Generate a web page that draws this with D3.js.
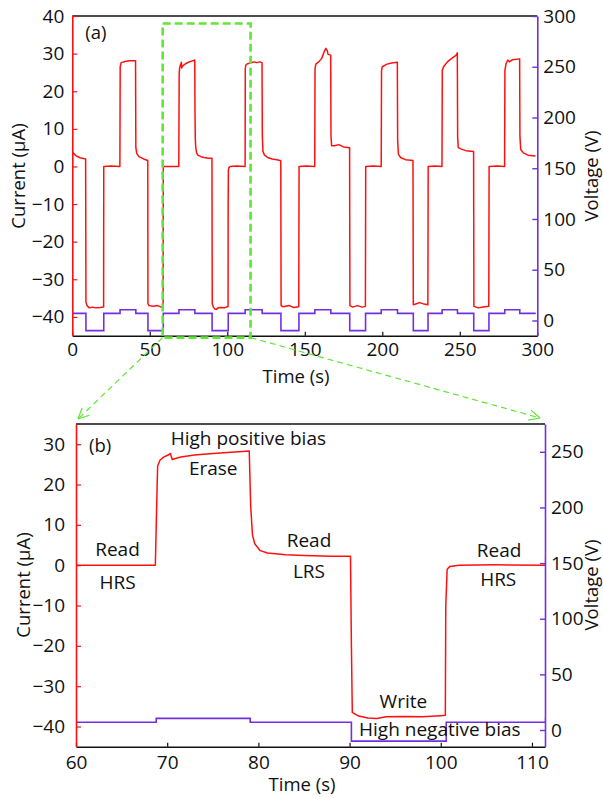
<!DOCTYPE html>
<html>
<head>
<meta charset="utf-8">
<script src="https://cdn.jsdelivr.net/npm/d3@7"></script>
<style>
  body { margin: 0; background: #fff; }
  svg text { font-family: 'Open Sans', sans-serif; fill: #111; }
</style>
</head>
<body>
<svg id="chart" width="603" height="798"></svg>
<script>
// current trace, [time (s), current (uA)]
const currentTrace = [
  [0, 3.8], [1, 3.4], [2, 3.0], [3, 2.7], [5, 2.3], [8.6, 2.0],
  [8.8, -36.0], [9.5, -37.0], [11, -37.6], [13, -37.4], [15, -37.6], [18, -37.5], [20.2, -37.4],
  [20.3, 0.0], [25, 0.1], [30.7, 0.0],
  [30.9, 26.5], [31.5, 27.6], [34, 27.9], [37, 28.1], [40.8, 28.1],
  [41.0, 5.0], [41.6, 3.4], [43, 2.6], [46, 2.0], [48.7, 1.6],
  [48.8, -36.5], [49.5, -37.0], [52, -37.2], [55, -37.0], [58.6, -37.6],
  [58.7, 0.0], [63, 0.0], [68.7, 0.0],
  [68.85, 15], [68.95, 24.5], [69.2, 26.0], [69.6, 26.8], [70.1, 27.3], [70.35, 27.7], [70.55, 26.2],
  [70.8, 26.4], [71.5, 26.8], [73, 27.3], [75, 27.7], [77, 28.0], [79.0, 28.3],
  [79.15, 15], [79.35, 7.5], [79.6, 5.3], [80.2, 3.6], [81, 3.0], [83, 2.6], [85, 2.4], [88, 2.2], [90.1, 2.2],
  [90.2, -20], [90.3, -36.5], [91, -37.4], [92, -37.9], [93, -38.0], [94, -37.6], [96, -37.5], [98, -37.6],
  [100, -37.3], [100.5, -37.2],
  [100.55, -10], [100.7, -1.0], [101, -0.3], [102, 0.0], [106, 0.1], [111.5, 0.0],
  [111.6, 26.0], [112, 27.0], [113, 27.3], [115, 27.5], [117, 27.8], [119, 27.6], [121, 27.8], [122.4, 27.6],
  [122.6, 8.0], [123.0, 4.0], [124, 3.0], [126, 2.4], [129, 2.0], [132, 1.8], [134.5, 1.5],
  [134.7, -37.0], [136, -37.3], [140, -37.0], [143, -37.5], [146.1, -37.3],
  [146.3, 0.0], [151, 0.1], [156.4, 0.0],
  [156.6, 26.0], [157.2, 27.3], [159, 27.8], [161, 28.8], [162.5, 30.5], [163.6, 31.4], [164.5, 30.8],
  [165, 29.8], [166.7, 29.6],
  [166.9, 8.0], [167.3, 5.5], [169, 5.5], [172, 5.8], [175, 5.2], [178.9, 5.0],
  [179.1, -37.0], [181, -37.4], [184, -37.0], [187, -37.4], [189.1, -37.2],
  [189.3, 0.0], [194, 0.1], [199.3, 0.0],
  [199.5, 25.5], [200, 26.5], [203, 27.2], [206, 27.5], [209.7, 27.7],
  [209.9, 7.0], [210.4, 3.2], [212, 2.3], [215, 1.8], [219.8, 1.6],
  [220, -36.8], [222, -36.5], [224, -36.2], [227, -36.6], [229.4, -36.8],
  [229.6, 0.0], [234, 0.1], [238.5, 0.0],
  [238.7, 25.5], [239.5, 26.5], [242, 27.8], [245, 28.8], [247.5, 29.5], [248.4, 30.2],
  [248.6, 8.0], [249, 5.0], [251, 4.6], [254, 4.2], [258.9, 4.0],
  [259.1, -37.2], [262, -37.6], [265, -37.4], [268.7, -37.2],
  [268.9, 0.0], [274, 0.1], [278.9, 0.0],
  [279.1, 25.5], [279.8, 27.3], [281, 28.3], [282, 27.8], [284, 28.4], [288.6, 28.6],
  [288.8, 8.0], [289.3, 4.5], [291, 3.6], [294, 3.0], [298.8, 2.8]
];

// applied voltage, [time (s), volts], each level holds until the next step
const voltageSteps = [
  [0, 7], [8.8, -10], [20.3, 7], [30.8, 10.5], [41.0, 7], [48.8, -10], [58.7, 7], [68.8, 10.5],
  [79.1, 7], [90.2, -10], [100.6, 7], [111.5, 10.5], [122.5, 7], [134.6, -10], [146.2, 7],
  [156.5, 10.5], [166.8, 7], [179, -10], [189.2, 7], [199.3, 10.5], [209.8, 7], [220, -10],
  [229.5, 7], [238.6, 10.5], [248.5, 7], [259, -10], [268.8, 7], [279, 10.5], [288.7, 7], [299, 7]
];

const topTimeTicks = [0, 50, 100, 150, 200, 250, 300];
const topCurrentTicks = [-40, -30, -20, -10, 0, 10, 20, 30, 40];
const topVoltageTicks = [0, 50, 100, 150, 200, 250, 300];
const zoomTimeTicks = [60, 70, 80, 90, 100, 110];
const zoomCurrentTicks = [-40, -30, -20, -10, 0, 10, 20, 30];
const zoomVoltageTicks = [0, 50, 100, 150, 200, 250];

// green box in panel (a): time span and current span
const zoomBoxTime = [58.3, 115];
const zoomBoxCurrent = [-45.5, 38];

// labels in panel (b): [text, time, current]
const zoomLabels = [
  ['High positive bias', 78.9, 29.8],
  ['Erase', 75.05, 22.3],
  ['Read', 64.55, 2.4],
  ['HRS', 64.55, -5.8],
  ['Read', 85.55, 4.5],
  ['LRS', 85.55, -3.3],
  ['Read', 106.4, 2.0],
  ['HRS', 106.3, -5.05],
  ['Write', 95.9, -35.3],
  ['High negative bias', 99.9, -42.4]
];

const RED = '#ff1010';
const PURPLE = '#7030e0';
const GREEN = '#5fe636';
const svg = d3.select('#chart');

function drawPanel(opt) {
  const x = d3.scaleLinear().domain(opt.xDomain).range([opt.left, opt.right]);
  const yI = d3.scaleLinear().domain(opt.iDomain).range([opt.bottom, opt.top]);
  const yV = d3.scaleLinear().domain(opt.vDomain).range([opt.bottom, opt.top]);
  const g = svg.append('g');

  g.append('clipPath').attr('id', opt.id + '-clip')
    .append('rect')
    .attr('x', opt.left).attr('y', opt.top)
    .attr('width', opt.right - opt.left).attr('height', opt.bottom - opt.top);

  const plot = g.append('g').attr('clip-path', `url(#${opt.id}-clip)`);

  plot.append('path')
    .datum(voltageSteps)
    .attr('fill', 'none')
    .attr('stroke', PURPLE)
    .attr('stroke-width', 1.6)
    .attr('d', d3.line().curve(d3.curveStepAfter).x(d => x(d[0])).y(d => yV(d[1])));

  plot.append('path')
    .datum(currentTrace)
    .attr('fill', 'none')
    .attr('stroke', RED)
    .attr('stroke-width', 1.5)
    .attr('stroke-linejoin', 'round')
    .attr('d', d3.line().x(d => x(d[0])).y(d => yI(d[1])));

  // top border
  g.append('line')
    .attr('x1', opt.left).attr('x2', opt.right)
    .attr('y1', opt.top).attr('y2', opt.top)
    .attr('stroke', '#111').attr('stroke-width', 1.5);

  const xAxis = d3.axisBottom(x).tickValues(opt.xTicks).tickSize(-4).tickSizeOuter(0).tickPadding(opt.xPad);
  const axX = g.append('g').attr('transform', `translate(0,${opt.bottom})`).call(xAxis);
  axX.select('.domain').attr('stroke', '#111').attr('stroke-width', 1.5);
  axX.selectAll('.tick line').attr('stroke', '#111').attr('stroke-width', 1.2);

  const yAxis = d3.axisLeft(yI).tickValues(opt.iTicks).tickSize(-5).tickSizeOuter(0).tickPadding(opt.iPad);
  const axI = g.append('g').attr('transform', `translate(${opt.left},0)`).call(yAxis);
  axI.select('.domain').attr('stroke', RED).attr('stroke-width', 1.6);
  axI.selectAll('.tick line').attr('stroke', RED).attr('stroke-width', 1.2);

  const vAxis = d3.axisRight(yV).tickValues(opt.vTicks).tickSize(-5).tickSizeOuter(0).tickPadding(opt.vPad);
  const axV = g.append('g').attr('transform', `translate(${opt.right},0)`).call(vAxis);
  axV.select('.domain').attr('stroke', PURPLE).attr('stroke-width', 1.6);
  axV.selectAll('.tick line').attr('stroke', PURPLE).attr('stroke-width', 1.4);

  g.selectAll('.tick text').attr('font-size', 19).attr('font-family', "'Open Sans', sans-serif").attr('fill', '#111');

  g.append('text')
    .attr('transform', `translate(${opt.iTitleX},${opt.titleY}) rotate(-90)`)
    .attr('text-anchor', 'middle')
    .attr('font-size', 18.5)
    .text('Current (μA)');

  g.append('text')
    .attr('transform', `translate(${opt.vTitleX},${opt.titleY}) rotate(-90)`)
    .attr('text-anchor', 'middle')
    .attr('font-size', 18.5)
    .text('Voltage (V)');

  g.append('text')
    .attr('x', opt.xTitleX).attr('y', opt.xTitleY)
    .attr('text-anchor', 'middle')
    .attr('font-size', 18.5)
    .text('Time (s)');

  g.append('text')
    .attr('x', opt.left + 13).attr('y', opt.tagY)
    .attr('font-size', 18.5)
    .text(opt.tag);

  return {x, yI, yV, g};
}

const panelA = drawPanel({
  id: 'a', tag: '(a)', tagY: 38.5,
  left: 72.3, right: 537.3, top: 16, bottom: 335.7,
  xDomain: [0, 300], iDomain: [-45, 40], vDomain: [-15, 300],
  xTicks: topTimeTicks, iTicks: topCurrentTicks, vTicks: topVoltageTicks,
  xPad: 7, iPad: 8, vPad: 6,
  iTitleX: 25, vTitleX: 598, titleY: 176, xTitleX: 296, xTitleY: 383
});

const panelB = drawPanel({
  id: 'b', tag: '(b)', tagY: 452,
  left: 76, right: 545, top: 424, bottom: 746.7,
  xDomain: [60, 111.43], iDomain: [-45, 35], vDomain: [-15, 275],
  xTicks: zoomTimeTicks, iTicks: zoomCurrentTicks, vTicks: zoomVoltageTicks,
  xPad: 9, iPad: 11, vPad: 6,
  iTitleX: 30, vTitleX: 598, titleY: 585, xTitleX: 302, xTitleY: 791
});

panelB.g.selectAll('.label')
  .data(zoomLabels)
  .join('text')
  .attr('class', 'label')
  .attr('x', d => panelB.x(d[1]))
  .attr('y', d => panelB.yI(d[2]))
  .attr('text-anchor', 'middle')
  .attr('font-size', 19)
  .text(d => d[0]);

// green dashed box marking the zoomed window
const bx0 = panelA.x(zoomBoxTime[0]);
const bx1 = panelA.x(zoomBoxTime[1]);
const by0 = panelA.yI(zoomBoxCurrent[1]);
const by1 = panelA.yI(zoomBoxCurrent[0]);

svg.append('rect')
  .attr('x', bx0).attr('y', by0)
  .attr('width', bx1 - bx0).attr('height', by1 - by0)
  .attr('fill', 'none')
  .attr('stroke', GREEN)
  .attr('stroke-width', 2.6)
  .attr('stroke-dasharray', '8,4');

function zoomArrow(x1, y1, x2, y2) {
  svg.append('line')
    .attr('x1', x1).attr('y1', y1).attr('x2', x2).attr('y2', y2)
    .attr('stroke', GREEN).attr('stroke-width', 1.2)
    .attr('stroke-dasharray', '6,4');
  const ang = Math.atan2(y2 - y1, x2 - x1);
  [-0.45, 0.45].forEach((da) => {
    svg.append('line')
      .attr('x1', x2).attr('y1', y2)
      .attr('x2', x2 - 12 * Math.cos(ang + da))
      .attr('y2', y2 - 12 * Math.sin(ang + da))
      .attr('stroke', GREEN).attr('stroke-width', 1.2);
  });
}

const [bl, br] = panelB.x.range();
const bt = panelB.yI.range()[1];
zoomArrow(bx0, by1, bl + 2, bt - 5);
zoomArrow(bx1, by1, br - 5, bt - 6);
</script>
</body>
</html>
